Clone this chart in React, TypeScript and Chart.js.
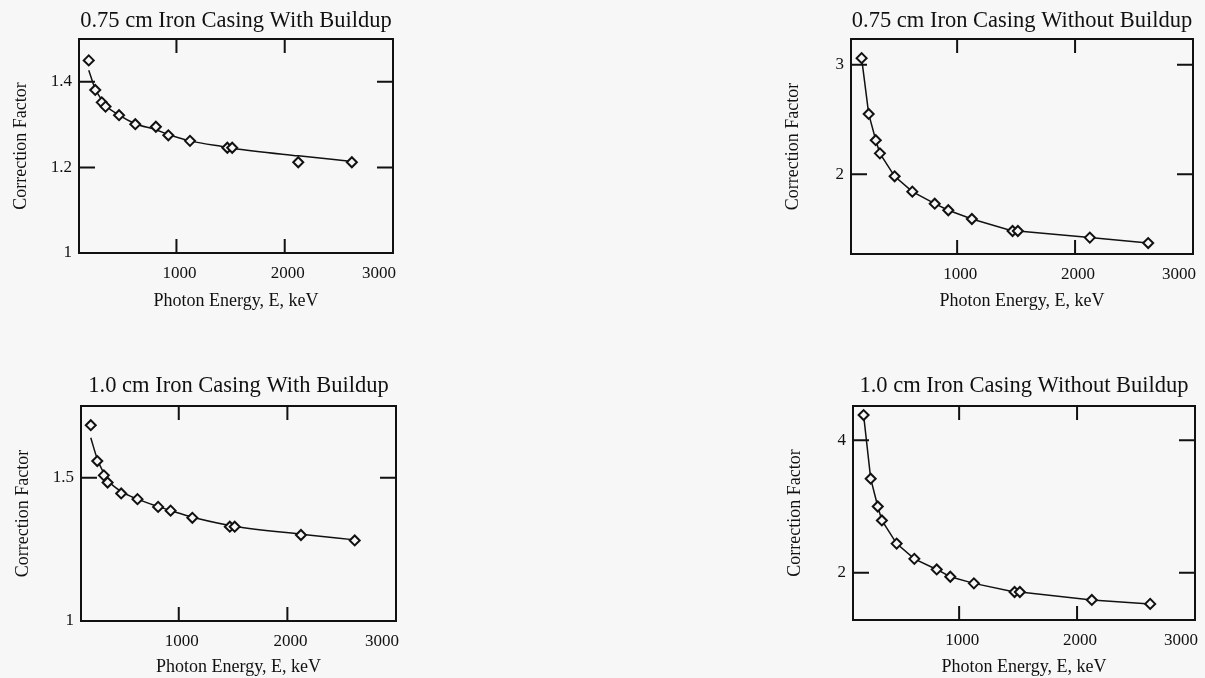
import React, { useEffect, useRef } from 'react';
import { Chart, registerables } from 'chart.js';

Chart.register(...registerables);

// ---------- data ----------
const energies = [190, 250, 310, 345, 470, 620, 810, 925, 1125, 1470, 1515, 2125, 2620];
const xTickValues = [100, 1000, 2000, 3000];
const xMarkValues = [1000, 2000];

const p1Title = '0.75 cm Iron Casing With Buildup';
const p1Points = [1.45, 1.381, 1.352, 1.342, 1.322, 1.301, 1.295, 1.275, 1.262, 1.246, 1.246, 1.212, 1.212];
const p1Fit = [1.427, 1.383, 1.358, 1.345, 1.322, 1.302, 1.288, 1.277, 1.262, 1.247, 1.245, 1.227, 1.214];
const p1YTicks = [1, 1.2, 1.4];
const p1YRange = [1, 1.5];

const p2Title = '0.75 cm Iron Casing Without Buildup';
const p2Points = [3.06, 2.55, 2.31, 2.19, 1.98, 1.84, 1.73, 1.67, 1.59, 1.48, 1.48, 1.42, 1.37];
const p2YTicks = [2, 3];
const p2YRange = [1.27, 3.235];

const p3Title = '1.0 cm Iron Casing With Buildup';
const p3Points = [1.683, 1.558, 1.508, 1.483, 1.445, 1.425, 1.398, 1.385, 1.36, 1.329, 1.329, 1.3, 1.281];
const p3Fit = [1.639, 1.565, 1.515, 1.492, 1.452, 1.425, 1.399, 1.385, 1.362, 1.333, 1.33, 1.303, 1.283];
const p3YTicks = [1, 1.5];
const p3YRange = [1, 1.75];

const p4Title = '1.0 cm Iron Casing Without Buildup';
const p4Points = [4.38, 3.42, 3.0, 2.79, 2.44, 2.21, 2.05, 1.94, 1.84, 1.71, 1.71, 1.59, 1.53];
const p4YTicks = [2, 4];
const p4YRange = [1.287, 4.517];

const xAxisTitle = 'Photon Energy, E, keV';
const yAxisTitle = 'Correction Factor';

// ---------- styles / layout ----------
const BG = '#f7f7f7';
const INK = '#111111';
const SERIF = "'Liberation Serif', 'Times New Roman', 'DejaVu Serif', serif";

type Layout = {
  left: number; top: number; width: number; height: number;
  titlePadTop: number; titlePadBottom: number; xTitlePad: number;
};

const layouts: Layout[] = [
  { left: 0, top: 0, width: 403, height: 318, titlePadTop: 7.2, titlePadBottom: 4.8, xTitlePad: 5.5 },
  { left: 772, top: 0, width: 431, height: 319, titlePadTop: 7.2, titlePadBottom: 4.8, xTitlePad: 6.5 },
  { left: 2, top: 367, width: 404, height: 319, titlePadTop: 5.5, titlePadBottom: 6.5, xTitlePad: 8.2 },
  { left: 774, top: 367, width: 431, height: 318, titlePadTop: 5.5, titlePadBottom: 6.5, xTitlePad: 6.7 },
];

type PanelProps = {
  layout: Layout;
  title: string;
  points: number[];
  fit: number[] | null;
  yTicks: number[];
  yRange: number[];
};

function makeFramePlugin(xMarks: number[], yMarks: number[]) {
  return {
    id: 'frameTicks',
    beforeDatasetsDraw(chart: any) {
      const { ctx, chartArea } = chart;
      const { left, right, top, bottom } = chartArea;
      const xs = chart.scales.x;
      const ys = chart.scales.y;
      ctx.save();
      ctx.strokeStyle = INK;
      ctx.lineWidth = 2;
      ctx.strokeRect(left, top, right - left, bottom - top);
      const xLen = 14;
      const yLen = 16;
      ctx.beginPath();
      xMarks.forEach((v) => {
        const px = xs.getPixelForValue(v);
        ctx.moveTo(px, top);
        ctx.lineTo(px, top + xLen);
        ctx.moveTo(px, bottom);
        ctx.lineTo(px, bottom - xLen);
      });
      yMarks.forEach((v) => {
        const py = ys.getPixelForValue(v);
        if (py >= bottom - 1 || py <= top + 1) return;
        ctx.moveTo(left, py);
        ctx.lineTo(left + yLen, py);
        ctx.moveTo(right, py);
        ctx.lineTo(right - yLen, py);
      });
      ctx.stroke();
      ctx.restore();
    },
  };
}

function Panel({ layout, title, points, fit, yTicks, yRange }: PanelProps) {
  const ref = useRef<HTMLCanvasElement>(null);

  useEffect(() => {
    if (!ref.current) return;
    const datasets: any[] = [
      {
        data: energies.map((e, i) => ({ x: e, y: points[i] })),
        showLine: !fit,
        borderColor: INK,
        borderWidth: 1.5,
        tension: 0,
        pointStyle: 'rectRot',
        pointRadius: 5,
        pointBorderWidth: 2,
        pointBorderColor: INK,
        pointBackgroundColor: BG,
      },
    ];
    if (fit) {
      datasets.push({
        data: energies.map((e, i) => ({ x: e, y: fit[i] })),
        showLine: true,
        borderColor: INK,
        borderWidth: 1.5,
        pointRadius: 0,
        cubicInterpolationMode: 'monotone',
      });
    }
    const tickFont = { family: SERIF, size: 17 };
    const chart = new Chart(ref.current, {
      type: 'scatter',
      data: { datasets },
      options: {
        animation: false,
        responsive: true,
        maintainAspectRatio: false,
        layout: { padding: { left: 0, right: 10, top: 0, bottom: 0 } },
        plugins: {
          legend: { display: false },
          tooltip: { enabled: false },
          title: {
            display: true,
            text: title,
            fullSize: false,
            color: INK,
            font: { family: SERIF, size: 22.5, weight: 'normal' },
            padding: { top: layout.titlePadTop, bottom: layout.titlePadBottom },
          },
        },
        scales: {
          x: {
            type: 'linear',
            position: 'bottom',
            min: 100,
            max: 3000,
            afterBuildTicks: (s: any) => {
              s.ticks = xTickValues.map((v) => ({ value: v }));
            },
            afterFit: (s: any) => {
              s.height = 65;
            },
            grid: { display: false, drawTicks: false },
            border: { display: false },
            ticks: {
              align: 'inner',
              padding: 10,
              labelOffset: 3,
              autoSkip: false,
              maxRotation: 0,
              color: INK,
              font: tickFont,
              callback: (v: any) => (v === 100 ? '' : String(v)),
            },
            title: {
              display: true,
              text: xAxisTitle,
              color: INK,
              font: { family: SERIF, size: 18 },
              padding: { top: 0, bottom: layout.xTitlePad },
            },
          },
          y: {
            type: 'linear',
            min: yRange[0],
            max: yRange[1],
            afterBuildTicks: (s: any) => {
              s.ticks = yTicks.map((v) => ({ value: v }));
            },
            afterFit: (s: any) => {
              s.width = 79;
            },
            grid: { display: false, drawTicks: false },
            border: { display: false },
            ticks: {
              padding: 7,
              color: INK,
              font: tickFont,
              callback: (v: any) => String(v),
            },
            title: {
              display: true,
              text: yAxisTitle,
              color: INK,
              font: { family: SERIF, size: 18 },
              padding: { top: 10, bottom: 0 },
            },
          },
        },
      } as any,
      plugins: [makeFramePlugin(xMarkValues, yTicks)],
    });
    return () => chart.destroy();
  }, []);

  return (
    <div
      style={{
        position: 'absolute',
        left: layout.left,
        top: layout.top,
        width: layout.width,
        height: layout.height,
      }}
    >
      <canvas ref={ref} />
    </div>
  );
}

export default function App() {
  return (
    <div
      style={{
        position: 'absolute',
        left: 0,
        top: 0,
        width: 1205,
        height: 678,
        overflow: 'hidden',
        background: BG,
      }}
    >
      <Panel layout={layouts[0]} title={p1Title} points={p1Points} fit={p1Fit} yTicks={p1YTicks} yRange={p1YRange} />
      <Panel layout={layouts[1]} title={p2Title} points={p2Points} fit={null} yTicks={p2YTicks} yRange={p2YRange} />
      <Panel layout={layouts[2]} title={p3Title} points={p3Points} fit={p3Fit} yTicks={p3YTicks} yRange={p3YRange} />
      <Panel layout={layouts[3]} title={p4Title} points={p4Points} fit={null} yTicks={p4YTicks} yRange={p4YRange} />
    </div>
  );
}
